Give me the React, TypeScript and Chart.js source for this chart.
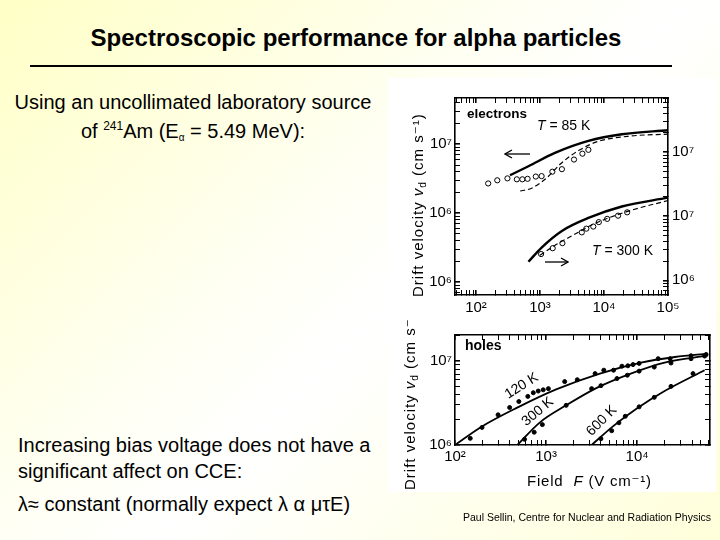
import React, { useEffect, useRef } from 'react';
import Chart from 'chart.js/auto';

// ---- upper panel: electrons ----
// T = 85 K, read against the left axis
const e85LineField = [340, 660, 1710, 5700, 19000, 100000];
const e85LineVel = [3.55e6, 4.8e6, 7.5e6, 1.12e7, 1.4e7, 1.6e7];
const e85DashField = [490, 740, 1200, 2200, 4000, 8100, 27000, 100000];
const e85DashVel = [2.1e6, 2.3e6, 3.1e6, 5.4e6, 8.1e6, 1.1e7, 1.32e7, 1.4e7];
const e85PointField = [155, 215, 310, 435, 530, 640, 860, 1060, 1560, 2200, 3400, 4600, 5700];
const e85PointVel = [2.7e6, 3.0e6, 3.2e6, 3.1e6, 3.1e6, 3.15e6, 3.4e6, 3.45e6, 4.0e6, 4.35e6, 6.0e6, 7.3e6, 8.3e6];

// T = 300 K, read against the right axis
const e300LineField = [660, 1060, 2200, 5700, 19000, 100000];
const e300LineVel = [1.95e6, 3.25e6, 5.9e6, 9.4e6, 1.42e7, 1.95e7];
const e300DashField = [1000, 1700, 3100, 7200, 24000, 100000];
const e300DashVel = [2.46e6, 3.5e6, 4.9e6, 7.7e6, 1.2e7, 1.76e7];
const e300PointField = [1040, 1580, 2240, 4500, 5300, 6800, 8300, 11200, 16600, 23000];
const e300PointVel = [2.57e6, 3.17e6, 3.8e6, 5.6e6, 6.4e6, 6.9e6, 8.1e6, 9.1e6, 1.02e7, 1.15e7];

// ---- lower panel: holes ----
const h120LineField = [100, 190, 470, 1290, 3900, 11000, 26000, 60000];
const h120LineVel = [1.0e6, 1.62e6, 2.75e6, 4.6e6, 7.1e6, 9.6e6, 1.12e7, 1.23e7];
const h120PointField = [147, 198, 297, 398, 502, 630, 724, 820, 930, 1060, 1600, 2200, 3450, 4300, 5500, 6800, 7900, 9000, 10500, 17000, 23000, 39000, 57000];
const h120PointVel = [1.2e6, 1.62e6, 2.29e6, 2.8e6, 3.3e6, 3.8e6, 4.2e6, 4.4e6, 4.55e6, 4.7e6, 5.7e6, 6.0e6, 7.1e6, 7.8e6, 7.8e6, 8.7e6, 8.8e6, 9.1e6, 9.4e6, 1.07e7, 1.07e7, 1.16e7, 1.2e7];
const h300LineField = [485, 850, 1660, 3600, 8500, 20000, 60000];
const h300LineVel = [1.0e6, 1.85e6, 2.97e6, 4.8e6, 7.1e6, 9.6e6, 1.17e7];
const h300PointField = [580, 740, 910, 1660, 3160, 4000, 6000, 7800, 10500, 15400, 23500, 39000, 55000];
const h300PointVel = [1.17e6, 1.42e6, 1.75e6, 2.97e6, 4.7e6, 5.1e6, 6.2e6, 6.8e6, 7.6e6, 8.5e6, 9.5e6, 1.07e7, 1.15e7];
const h600LineField = [3160, 5500, 10000, 20000, 55000];
const h600LineVel = [1.0e6, 1.69e6, 2.74e6, 4.4e6, 7.8e6];
const h600PointField = [4000, 5250, 6300, 7400, 10500, 15400, 23500, 41000];
const h600PointVel = [1.19e6, 1.48e6, 1.84e6, 2.2e6, 2.85e6, 3.7e6, 5.0e6, 7.1e6];

// ---- tick labels (as printed on the figure) ----
const elecFieldTicks = [1e2, 1e3, 1e4, 1e5];
const elecFieldLabels = ['10²', '10³', '10⁴', '10⁵'];
const elecLeftTicks = [1e5, 1e6, 1e7];
const elecLeftLabels = ['10⁶', '10⁶', '10⁷'];
const elecRightTicks = [1e6, 1e7, 1e8];
const elecRightLabels = ['10⁶', '10⁷', '10⁷'];
const holeFieldTicks = [1e2, 1e3, 1e4];
const holeFieldLabels = ['10²', '10³', '10⁴'];
const holeVelTicks = [1e6, 1e7];
const holeVelLabels = ['10⁶', '10⁷'];

const FONT = '"Liberation Sans", Arial, "DejaVu Sans", sans-serif';

type Side = 'left' | 'right' | 'top' | 'bottom';

function decadeTicks(min: number, max: number) {
  const out: { value: number; major: boolean }[] = [];
  for (let e = Math.floor(Math.log10(min)); e <= Math.ceil(Math.log10(max)); e++) {
    for (let m = 1; m <= 9; m++) {
      const v = m * Math.pow(10, e);
      if (v >= min * 0.9999 && v <= max * 1.0001) out.push({ value: v, major: m === 1 });
    }
  }
  return out;
}

function labelAt(values: number[], labels: string[], v: number) {
  const i = values.findIndex((t) => Math.abs(Math.log10(t) - Math.log10(v)) < 1e-6);
  return i >= 0 ? labels[i] : '';
}

function logAxis(position: Side, min: number, max: number, size: number, tickValues?: number[], tickLabels?: string[], padding = 8) {
  const horizontal = position === 'top' || position === 'bottom';
  return {
    type: 'logarithmic' as const,
    position,
    min,
    max,
    border: { display: true, color: '#000', width: 1.6 },
    grid: {
      drawOnChartArea: false,
      drawTicks: true,
      tickLength: -5,
      color: '#000',
      lineWidth: (ctx: any) => (ctx.tick && ctx.tick.major ? 1.6 : 1),
    },
    ticks: {
      display: !!tickValues,
      autoSkip: false,
      maxRotation: 0,
      minRotation: 0,
      padding,
      color: '#000',
      font: { family: FONT, size: 15 },
      callback: (v: number | string) => (tickValues && tickLabels ? labelAt(tickValues, tickLabels, Number(v)) : ''),
    },
    afterBuildTicks: (scale: any) => {
      scale.ticks = decadeTicks(min, max);
    },
    afterFit: (scale: any) => {
      if (horizontal) scale.height = size;
      else scale.width = size;
    },
  };
}

const pts = (xs: number[], ys: number[]) => xs.map((x, i) => ({ x, y: ys[i] }));

const curve = (xs: number[], ys: number[], axis: string, dashed: boolean, width: number) => ({
  data: pts(xs, ys),
  yAxisID: axis,
  showLine: true,
  borderColor: '#000',
  borderWidth: width,
  borderDash: dashed ? [5, 3] : [],
  pointRadius: 0,
  cubicInterpolationMode: 'monotone' as const,
  fill: false,
});

const marks = (xs: number[], ys: number[], axis: string, open: boolean) => ({
  data: pts(xs, ys),
  yAxisID: axis,
  showLine: false,
  pointRadius: open ? 2.6 : 2,
  pointBorderWidth: 1,
  pointBorderColor: '#000',
  pointBackgroundColor: open ? '#fff' : '#000',
});

const baseOptions = {
  responsive: false,
  animation: false as const,
  events: [],
  layout: { padding: 0 },
  plugins: { legend: { display: false }, tooltip: { enabled: false } },
};

function electronsConfig(): any {
  return {
    type: 'scatter',
    data: {
      datasets: [
        curve(e85LineField, e85LineVel, 'yL', false, 2.4),
        curve(e85DashField, e85DashVel, 'yL', true, 1.2),
        marks(e85PointField, e85PointVel, 'yL', true),
        curve(e300LineField, e300LineVel, 'yR', false, 2.4),
        curve(e300DashField, e300DashVel, 'yR', true, 1.2),
        marks(e300PointField, e300PointVel, 'yR', true),
      ],
    },
    options: {
      ...baseOptions,
      scales: {
        x: logAxis('bottom', 47, 1e5, 25, elecFieldTicks, elecFieldLabels, 9),
        xTop: logAxis('top', 47, 1e5, 15),
        yL: logAxis('left', 6.5e4, 4.69e7, 67, elecLeftTicks, elecLeftLabels, 8),
        yR: logAxis('right', 5.9e5, 7.0e8, 52, elecRightTicks, elecRightLabels, 9),
      },
    },
  };
}

function holesConfig(): any {
  return {
    type: 'scatter',
    data: {
      datasets: [
        curve(h120LineField, h120LineVel, 'y', false, 1.8),
        marks(h120PointField, h120PointVel, 'y', false),
        curve(h300LineField, h300LineVel, 'y', false, 1.8),
        marks(h300PointField, h300PointVel, 'y', false),
        curve(h600LineField, h600LineVel, 'y', false, 1.8),
        marks(h600PointField, h600PointVel, 'y', false),
      ],
    },
    options: {
      ...baseOptions,
      scales: {
        x: logAxis('bottom', 100, 6.3e4, 50, holeFieldTicks, holeFieldLabels, 8),
        xTop: logAxis('top', 100, 6.3e4, 9),
        y: logAxis('left', 1e6, 2.05e7, 67, holeVelTicks, holeVelLabels, 8),
        yRight: logAxis('right', 1e6, 2.05e7, 10),
      },
    },
  };
}

function Plot({ left, top, width, height, build }: { left: number; top: number; width: number; height: number; build: () => any }) {
  const ref = useRef<HTMLCanvasElement | null>(null);
  useEffect(() => {
    if (!ref.current) return;
    const chart = new Chart(ref.current, build());
    return () => chart.destroy();
  }, [build]);
  return <canvas ref={ref} width={width} height={height} style={{ position: 'absolute', left, top }} />;
}

const abs = (left: number, top: number, extra: React.CSSProperties = {}): React.CSSProperties => ({
  position: 'absolute',
  left,
  top,
  whiteSpace: 'nowrap',
  ...extra,
});

function Arrow({ left, top, width, dir }: { left: number; top: number; width: number; dir: 'left' | 'right' }) {
  const y = 5;
  const tip = dir === 'left' ? 1 : width - 1;
  const back = dir === 'left' ? 8 : width - 8;
  return (
    <svg width={width} height={10} style={{ position: 'absolute', left, top }}>
      <line x1={1} y1={y} x2={width - 1} y2={y} stroke="#000" strokeWidth={1.3} />
      <polyline points={`${back},${y - 4} ${tip},${y} ${back},${y + 4}`} fill="none" stroke="#000" strokeWidth={1.3} />
    </svg>
  );
}

const axisTitle: React.CSSProperties = {
  fontFamily: FONT,
  fontSize: 15,
  lineHeight: '16px',
  letterSpacing: 1,
  transformOrigin: '0 0',
  transform: 'rotate(-90deg)',
};

const subStyle: React.CSSProperties = { fontSize: 10, verticalAlign: -3, lineHeight: 0 };
const supStyle: React.CSSProperties = { fontSize: 12, verticalAlign: 8, lineHeight: 0 };

export default function App() {
  return (
    <div
      style={{
        position: 'absolute',
        left: 0,
        top: 0,
        width: 720,
        height: 540,
        overflow: 'hidden',
        fontFamily: FONT,
        color: '#000',
        background: 'linear-gradient(135deg, #ffffc6 0%, #fffff2 40%, #ffffff 55%, #ffffda 100%)',
      }}
    >
      <div style={abs(0, 25.7, { width: 712, textAlign: 'center', fontSize: 24, lineHeight: '24px', fontWeight: 'bold' })}>
        Spectroscopic performance for alpha particles
      </div>
      <div style={abs(30, 65, { width: 642, height: 2, background: '#000' })} />

      <div style={abs(0, 92.4, { width: 386, textAlign: 'center', fontSize: 20, lineHeight: '20px' })}>
        Using an uncollimated laboratory source
      </div>
      <div style={abs(0, 120.5, { width: 386, textAlign: 'center', fontSize: 20, lineHeight: '20px' })}>
        of <span style={supStyle}>241</span>Am (E<span style={subStyle}>α</span> = 5.49 MeV):
      </div>

      <div style={abs(18, 434.5, { fontSize: 20, lineHeight: '20px' })}>Increasing bias voltage does not have a</div>
      <div style={abs(18, 460.5, { fontSize: 20, lineHeight: '20px' })}>significant affect on CCE:</div>
      <div style={abs(18, 493.5, { fontSize: 20, lineHeight: '20px' })}>λ≈ constant (normally expect λ α μτE)</div>

      <div style={abs(388, 78, { width: 328, height: 414, background: '#fff' })} />

      <Plot left={388} top={80} width={332} height={240} build={electronsConfig} />
      <Plot left={388} top={318} width={332} height={177} build={holesConfig} />

      <div style={abs(410, 297, axisTitle)}>
        Drift velocity <i>v</i><span style={subStyle}>d</span> (cm s⁻¹)
      </div>
      <div style={abs(395, 318, { width: 40, height: 174, overflow: 'hidden' })}>
        <div style={abs(7, 172, axisTitle)}>
          Drift velocity <i>v</i><span style={subStyle}>d</span> (cm s⁻¹)
        </div>
      </div>
      <div style={abs(527, 473, { fontSize: 15, lineHeight: '15px', letterSpacing: 0.8 })}>
        Field&nbsp; <i>F</i> (V cm⁻¹)
      </div>

      <div style={abs(467, 106.6, { fontSize: 13.5, lineHeight: '13.5px', fontWeight: 'bold' })}>electrons</div>
      <div style={abs(537, 118, { fontSize: 14, lineHeight: '14px' })}>
        <i>T</i> = 85 K
      </div>
      <Arrow left={504} top={149} width={27} dir="left" />
      <div style={abs(592, 243, { fontSize: 14, lineHeight: '14px' })}>
        <i>T</i> = 300 K
      </div>
      <Arrow left={544} top={257} width={25} dir="right" />

      <div style={abs(465, 338, { fontSize: 14, lineHeight: '14px', fontWeight: 'bold' })}>holes</div>
      <div style={abs(521, 385, { fontSize: 14, lineHeight: '14px', transform: 'translate(-50%, -50%) rotate(-32deg)' })}>120 K</div>
      <div style={abs(537, 411, { fontSize: 14, lineHeight: '14px', transform: 'translate(-50%, -50%) rotate(-40deg)' })}>300 K</div>
      <div style={abs(601, 420, { fontSize: 14, lineHeight: '14px', transform: 'translate(-50%, -50%) rotate(-45deg)' })}>600 K</div>

      <div style={abs(463, 512, { fontSize: 10.5, lineHeight: '10.5px' })}>
        Paul Sellin, Centre for Nuclear and Radiation Physics
      </div>
    </div>
  );
}
